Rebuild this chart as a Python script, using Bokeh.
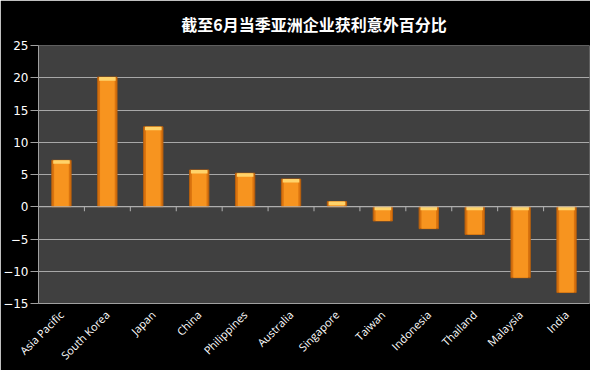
from bokeh.plotting import figure
from bokeh.embed import file_html
from bokeh.resources import INLINE
from bokeh.models import FixedTicker, Range1d, Span, ColumnDataSource
import math

title_text = "截至6月当季亚洲企业获利意外百分比"
categories = ["Asia Pacific", "South Korea", "Japan", "China", "Philippines",
              "Australia", "Singapore", "Taiwan", "Indonesia", "Thailand",
              "Malaysia", "India"]
values = [7.2, 20.1, 12.4, 5.7, 5.2, 4.3, 0.8, -2.2, -3.4, -4.3, -11.0, -13.3]
y_ticks = [-15, -10, -5, 0, 5, 10, 15, 20, 25]

idx = list(range(len(categories)))
hl = 0.55
src = ColumnDataSource(dict(
    x=idx, top=values, bottom=[0] * len(values),
    hl_top=[max(v, 0) for v in values],
    hl_bot=[max(v, 0) - min(hl, abs(v)) for v in values],
))

p = figure(width=590, height=370, output_backend="svg", toolbar_location=None,
           x_range=Range1d(-0.5, len(categories) - 0.5),
           y_range=Range1d(y_ticks[0], y_ticks[-1]),
           min_border_left=33, min_border_right=1, min_border_top=45,
           min_border_bottom=67, title=title_text)

p.background_fill_color = "#404040"
p.border_fill_color = "#000000"
p.outline_line_color = None

p.title.text_color = "white"
p.title.text_font = "Noto Sans CJK SC"
p.title.text_font_size = "16px"
p.title.text_font_style = "bold"
p.title.align = "center"
p.title.vertical_align = "top"
p.title.standoff = 16

# y axis
p.yaxis.ticker = FixedTicker(ticks=y_ticks)
p.yaxis.axis_line_color = "#A0A0A0"
p.yaxis.major_tick_line_color = "#A0A0A0"
p.yaxis.major_tick_out = 8
p.yaxis.major_tick_in = 0
p.yaxis.minor_tick_line_color = None
p.yaxis.major_label_text_color = "white"
p.yaxis.major_label_text_font = "DejaVu Sans"
p.yaxis.major_label_text_font_size = "12px"
p.yaxis.major_label_standoff = 2

# x axis
p.xaxis.ticker = FixedTicker(ticks=idx)
p.xaxis.major_label_overrides = {i: c for i, c in zip(idx, categories)}
p.xaxis.major_label_orientation = math.pi / 4
p.xaxis.axis_line_color = "#A0A0A0"
p.xaxis.major_tick_line_color = None
p.xaxis.minor_tick_line_color = None
p.xaxis.major_label_text_color = "white"
p.xaxis.major_label_text_font = "Open Sans"
p.xaxis.major_label_text_font_size = "11px"
p.xaxis.major_label_standoff = 3

p.xgrid.grid_line_color = None
p.ygrid.ticker = FixedTicker(ticks=y_ticks)
p.ygrid.grid_line_color = "#A8A8A8"
p.ygrid.grid_line_width = 1

# zero line with category boundary ticks
p.add_layout(Span(location=0, dimension="width", line_color="#B0B0B0", line_width=1))
bounds = [i + 0.5 for i in idx[:-1]]
p.segment(x0=bounds, x1=bounds, y0=[0] * len(bounds), y1=[-0.7] * len(bounds),
          line_color="#B0B0B0", line_width=1)

# bars
p.vbar(x="x", top="top", bottom="bottom", width=0.42, source=src,
       fill_color="#D9730F", line_color="#B85F0C", line_width=1)
p.vbar(x="x", top="top", bottom="bottom", width=0.32, source=src,
       fill_color="#F7941F", line_color=None)
p.vbar(x="x", top="hl_top", bottom="hl_bot", width=0.36, source=src,
       fill_color="#FFD36A", line_color=None)

open("out.html", "w").write(file_html(p, INLINE))
